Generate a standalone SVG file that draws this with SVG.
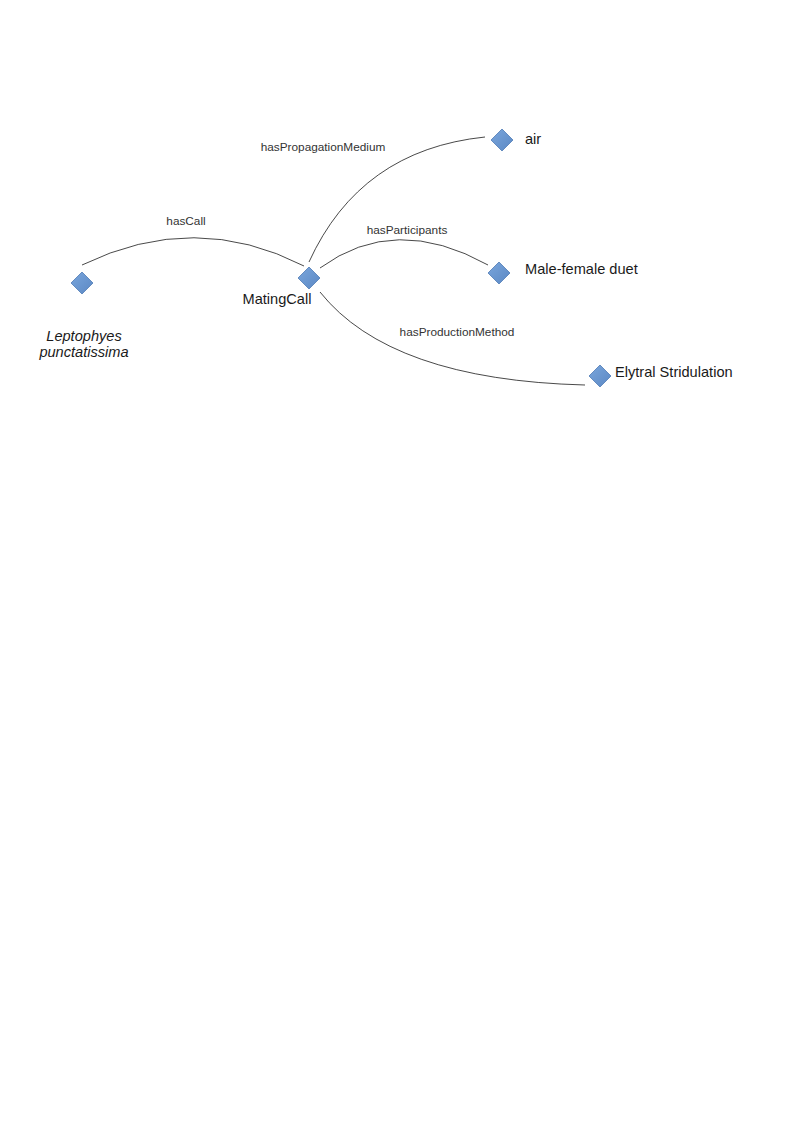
<svg xmlns="http://www.w3.org/2000/svg" width="794" height="1123" viewBox="0 0 794 1123">
<defs>
<linearGradient id="g" x1="0" y1="0" x2="1" y2="1">
<stop offset="0" stop-color="#7aa6dc"/>
<stop offset="1" stop-color="#5b88c4"/>
</linearGradient>
<style>
.d{fill:url(#g);stroke:#4f7bb5;stroke-width:0.8}
.e{fill:none;stroke:#1a1a1a;stroke-width:0.8}
.el{font-family:"Liberation Sans",Arial,sans-serif;font-size:11.8px;fill:#333;text-anchor:middle}
.nl{font-family:"Liberation Sans",Arial,sans-serif;font-size:14.6px;fill:#1a1a1a}
</style>
</defs>
<rect width="794" height="1123" fill="#fff"/>
<g id="connectors">
<path class="e" d="M82,265 Q195,210 304,266"/>
<path class="e" d="M309,262 Q360,150 485,137"/>
<path class="e" d="M320,268 Q395,213 488,265"/>
<path class="e" d="M320,292 Q390,380 585,385"/>
<text class="el" x="186" y="225">hasCall</text>
<text class="el" x="323" y="151">hasPropagationMedium</text>
<text class="el" x="407" y="234">hasParticipants</text>
<text class="el" x="457" y="336">hasProductionMethod</text>
</g>
<g id="leptophyes">
<path class="d" d="M82,272 L93,283 L82,294 L71,283 Z"/>
<text class="nl" x="84" y="341" text-anchor="middle" font-style="italic">Leptophyes</text>
<text class="nl" x="84" y="357" text-anchor="middle" font-style="italic">punctatissima</text>
</g>
<g id="matingcall">
<path class="d" d="M309,267 L320,278 L309,289 L298,278 Z"/>
<text class="nl" x="277" y="304" text-anchor="middle">MatingCall</text>
</g>
<g id="air">
<path class="d" d="M502,129 L513,140 L502,151 L491,140 Z"/>
<text class="nl" x="525" y="144">air</text>
</g>
<g id="duet">
<path class="d" d="M499,262 L510,273 L499,284 L488,273 Z"/>
<text class="nl" x="525" y="274">Male-female duet</text>
</g>
<g id="elytral">
<path class="d" d="M600,365 L611,376 L600,387 L589,376 Z"/>
<text class="nl" x="615" y="377">Elytral Stridulation</text>
</g>
</svg>
